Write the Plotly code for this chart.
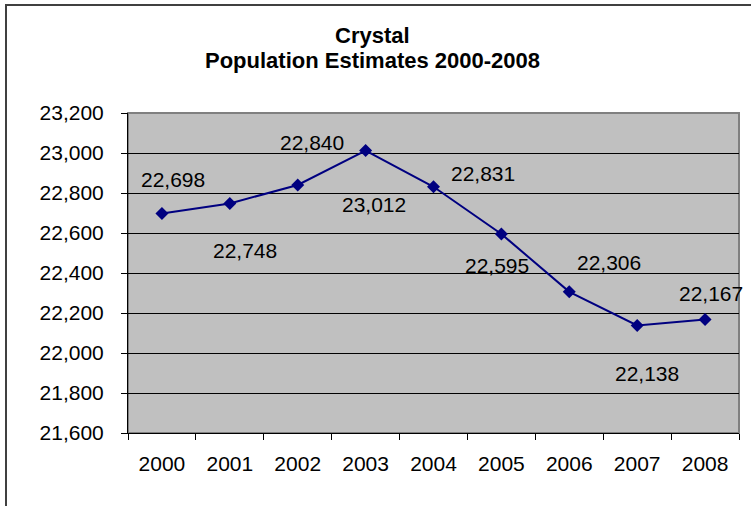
import plotly.graph_objects as go

years = ["2000", "2001", "2002", "2003", "2004", "2005", "2006", "2007", "2008"]
population = [22698, 22748, 22840, 23012, 22831, 22595, 22306, 22138, 22167]
y_ticks = [21600, 21800, 22000, 22200, 22400, 22600, 22800, 23000, 23200]
title_line1 = "Crystal"
title_line2 = "Population Estimates 2000-2008"

# label offsets (pixels) mimicking the original label placement
label_dx = [11, 15, 14, 8, 49, -4, 40, 10, 6]
label_dy = [34, -47, 43, -54, 13, -31, 29, -48, 26]

W, H = 751, 506
L, R, T, B = 128, 739, 113, 433
FONT = "Liberation Sans, Arial, sans-serif"


def px_x(p):
    return (p - L) / (R - L)


def px_y(p):
    return (B - p) / (B - T)


fig = go.Figure()
fig.add_trace(go.Scatter(
    x=years, y=population, mode="lines+markers",
    line=dict(color="#000080", width=2),
    marker=dict(symbol="diamond", size=10, color="#000080"),
    hoverinfo="skip", showlegend=False,
))

annotations = []
for i, (v, dx, dy) in enumerate(zip(population, label_dx, label_dy)):
    annotations.append(dict(
        x=i, y=v, xref="x", yref="y", text=f"{v:,}", showarrow=False,
        xshift=dx, yshift=dy, font=dict(family=FONT, size=21, color="black"),
        xanchor="center", yanchor="middle",
    ))
annotations.append(dict(
    x=px_x(372), y=px_y(36), xref="paper", yref="paper", text=f"<b>{title_line1}</b>",
    showarrow=False, xanchor="center", yanchor="middle",
    font=dict(family=FONT, size=22, color="black"),
))
annotations.append(dict(
    x=px_x(372), y=px_y(60), xref="paper", yref="paper", text=f"<b>{title_line2}</b>",
    showarrow=False, xanchor="center", yanchor="middle",
    font=dict(family=FONT, size=22, color="black"),
))
# top edge of the outer chart border, drawn as a thin filled box
annotations.append(dict(
    x=px_x(5), y=px_y(4), xref="paper", yref="paper", text="",
    showarrow=False, xanchor="left", yanchor="top",
    width=760, height=2, bgcolor="#404040", borderpad=0, borderwidth=0,
    font=dict(size=1),
))

shapes = [
    # outer chart border: left edge
    dict(type="rect", xref="paper", yref="paper",
         x0=px_x(5), x1=px_x(7), y0=px_y(520), y1=px_y(4),
         line=dict(width=0), fillcolor="#404040", layer="above"),
    # plot area border
    dict(type="rect", xref="paper", yref="paper", x0=0, x1=1, y0=0, y1=1,
         line=dict(color="#808080", width=2), fillcolor="rgba(0,0,0,0)", layer="below"),
]

fig.update_layout(
    width=W, height=H,
    margin=dict(l=L, r=W - R, t=T, b=H - B, pad=0),
    paper_bgcolor="white", plot_bgcolor="#C0C0C0",
    font=dict(family=FONT, size=21, color="black"),
    annotations=annotations, shapes=shapes,
    xaxis=dict(
        type="category", range=[-0.5, 8.5], tickson="boundaries",
        ticks="outside", ticklen=6, tickcolor="black", tickwidth=1,
        showline=True, linecolor="black", linewidth=1, showgrid=False,
        tickfont=dict(family=FONT, size=21), ticklabelstandoff=12,
        zeroline=False, fixedrange=True,
    ),
    yaxis=dict(
        range=[21600, 23200], tickvals=y_ticks, tickformat=",",
        ticks="outside", ticklen=6, tickcolor="black", tickwidth=1,
        showline=True, linecolor="black", linewidth=1,
        showgrid=True, gridcolor="black", gridwidth=1,
        tickfont=dict(family=FONT, size=21), ticklabelstandoff=13,
        zeroline=False, fixedrange=True,
    ),
)

fig.write_html("out.html", post_script="document.body.style.margin='0';",
               config={"displayModeBar": False})
